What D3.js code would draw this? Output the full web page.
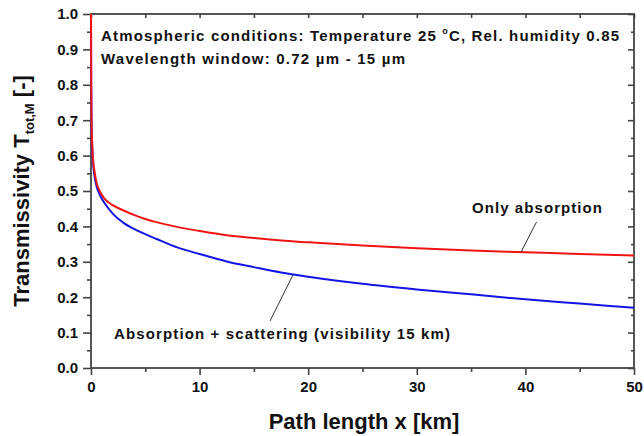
<!DOCTYPE html>
<html>
<head>
<meta charset="utf-8">
<script src="https://cdn.jsdelivr.net/npm/d3@7"></script>
<style>
  html, body { margin: 0; padding: 0; background: #fff; }
  svg { display: block; }
  text { font-family: "Liberation Sans", Arial, sans-serif; font-weight: bold; fill: #111; }
</style>
</head>
<body>
<svg id="chart" width="644" height="436"></svg>
<script>
// Path length samples [km]
const pathLength = [0, 0.02, 0.05, 0.1, 0.2, 0.3, 0.5, 0.8, 1.2, 2, 3, 4, 5, 6, 8, 10, 12.5, 15, 17.5, 20, 25, 30, 35, 40, 45, 50];
// Transmissivity, absorption only
const onlyAbsorption = [1.0, 0.80, 0.70, 0.64, 0.585, 0.56, 0.525, 0.50, 0.48, 0.46, 0.445, 0.432, 0.421, 0.412, 0.398, 0.387, 0.375, 0.367, 0.360, 0.355, 0.346, 0.338, 0.332, 0.327, 0.322, 0.318];
// Transmissivity, absorption + scattering (visibility 15 km)
const absorptionScattering = [1.0, 0.80, 0.70, 0.635, 0.575, 0.548, 0.515, 0.490, 0.468, 0.436, 0.410, 0.392, 0.378, 0.365, 0.340, 0.322, 0.301, 0.285, 0.270, 0.258, 0.238, 0.222, 0.208, 0.194, 0.182, 0.170];

const xTicks = [0, 10, 20, 30, 40, 50];
const xMinor = [5, 15, 25, 35, 45];
const yTicks = [0, 0.1, 0.2, 0.3, 0.4, 0.5, 0.6, 0.7, 0.8, 0.9, 1.0];
const yMinor = [0.05, 0.15, 0.25, 0.35, 0.45, 0.55, 0.65, 0.75, 0.85, 0.95];

const svg = d3.select("#chart");
const L = 91, R = 634, T = 14, B = 368;

const x = d3.scaleLinear().domain([0, 50]).range([L, R]);
const y = d3.scaleLinear().domain([0, 1]).range([B, T]);

const axisColor = "#444";

function styleAxis(g) {
  g.select(".domain").remove();
  g.selectAll(".tick line").attr("stroke", axisColor).attr("stroke-width", 1.6);
  g.selectAll(".tick text").attr("font-size", 15).attr("fill", "#111")
    .attr("font-family", "Liberation Sans, Arial, sans-serif").attr("font-weight", "bold");
}

// Bottom axis: major + minor ticks outward
svg.append("g").attr("transform", `translate(0,${B})`)
  .call(d3.axisBottom(x).tickValues(xTicks).tickSize(7).tickPadding(6).tickFormat(d3.format("d")))
  .call(styleAxis);
svg.append("g").attr("transform", `translate(0,${B})`)
  .call(d3.axisBottom(x).tickValues(xMinor).tickSize(4).tickFormat(""))
  .call(styleAxis);

// Left axis
svg.append("g").attr("transform", `translate(${L},0)`)
  .call(d3.axisLeft(y).tickValues(yTicks).tickSize(8).tickPadding(5).tickFormat(d3.format(".1f")))
  .call(styleAxis);
svg.append("g").attr("transform", `translate(${L},0)`)
  .call(d3.axisLeft(y).tickValues(yMinor).tickSize(4).tickFormat(""))
  .call(styleAxis);

// Top axis: ticks inward
svg.append("g").attr("transform", `translate(0,${T})`)
  .call(d3.axisBottom(x).tickValues(xTicks.concat(xMinor)).tickSize(4).tickFormat(""))
  .call(styleAxis);

// Right axis: ticks inward
svg.append("g").attr("transform", `translate(${R},0)`)
  .call(d3.axisLeft(y).tickValues(yTicks).tickSize(6).tickFormat(""))
  .call(styleAxis);
svg.append("g").attr("transform", `translate(${R},0)`)
  .call(d3.axisLeft(y).tickValues(yMinor).tickSize(3).tickFormat(""))
  .call(styleAxis);

// Frame
svg.append("rect").attr("x", L).attr("y", T).attr("width", R - L).attr("height", B - T)
  .attr("fill", "none").attr("stroke", axisColor).attr("stroke-width", 1.8);

// Curves
const line = d3.line().x(d => x(d[0])).y(d => y(d[1])).curve(d3.curveMonotoneX);
const blueData = pathLength.map((p, i) => [p, absorptionScattering[i]]);
const redData = pathLength.map((p, i) => [p, onlyAbsorption[i]]);

svg.append("path").datum(blueData).attr("d", line)
  .attr("fill", "none").attr("stroke", "#1414e6").attr("stroke-width", 2);
svg.append("path").datum(redData).attr("d", line)
  .attr("fill", "none").attr("stroke", "#f01414").attr("stroke-width", 2);

// Header notes
const t1 = svg.append("text").attr("x", 101).attr("y", 41).attr("font-size", 15)
  .attr("textLength", 518).attr("lengthAdjust", "spacing");
t1.append("tspan").text("Atmospheric conditions: Temperature 25 ");
t1.append("tspan").text("o").attr("font-size", 9).attr("dy", -7);
t1.append("tspan").text("C, Rel. humidity 0.85").attr("dy", 7);

svg.append("text").attr("x", 101).attr("y", 63.5).attr("font-size", 15)
  .attr("textLength", 304).attr("lengthAdjust", "spacing")
  .text("Wavelength window: 0.72 µm - 15 µm");

// Curve labels with leader lines
svg.append("text").attr("x", 472).attr("y", 213).attr("font-size", 15)
  .attr("textLength", 130).attr("lengthAdjust", "spacing")
  .text("Only absorption");
svg.append("line")
  .attr("x1", x(39.6)).attr("y1", y(0.3275))
  .attr("x2", 536.5).attr("y2", 222)
  .attr("stroke", "#333").attr("stroke-width", 1);

svg.append("text").attr("x", 114).attr("y", 339).attr("font-size", 15)
  .attr("textLength", 336).attr("lengthAdjust", "spacing")
  .text("Absorption + scattering (visibility 15 km)");
svg.append("line")
  .attr("x1", x(18.6)).attr("y1", y(0.263))
  .attr("x2", 270).attr("y2", 321)
  .attr("stroke", "#333").attr("stroke-width", 1);

// Axis titles
svg.append("text").attr("x", 364).attr("y", 429).attr("text-anchor", "middle")
  .attr("font-size", 22).text("Path length x [km]");

const yt = svg.append("text").attr("transform", `translate(29,${(T + B) / 2}) rotate(-90)`)
  .attr("text-anchor", "middle").attr("font-size", 22);
yt.append("tspan").text("Transmissivity T");
yt.append("tspan").text("tot,M").attr("font-size", 13).attr("dy", 5);
yt.append("tspan").text(" [-]").attr("dy", -5);
</script>
</body>
</html>
